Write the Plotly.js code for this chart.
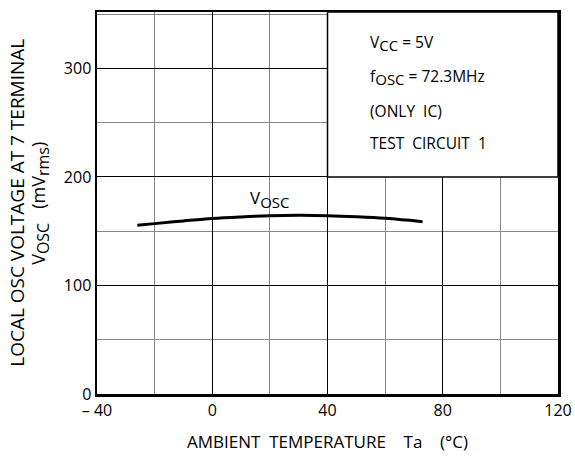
<!DOCTYPE html>
<html>
<head>
<meta charset="utf-8">
<script src="https://cdn.plot.ly/plotly-3.0.1.min.js"></script>
<style>html,body{margin:0;padding:0;background:#fff;}#chart{width:575px;height:459px;}</style>
</head>
<body>
<div id="chart"></div>
<script>
// Data
const temperature = [-26, -20, -10, 0, 10, 20, 30, 40, 50, 60, 70, 73];
const vosc = [155.5, 157, 159.5, 161.8, 163.2, 164.2, 164.6, 164.3, 163.4, 162, 159.6, 158.8];
const xTickVals = [-40, 0, 40, 80, 120];
const xTickText = ['– 40', '0', '40', '80', '120'];
const yTickVals = [0, 100, 200, 300];
const yTickText = ['0', '100', '200', '300'];

function sub(main, s, size) {
  return main + '<sub><span style="font-size:' + size + 'px">' + s + '</span></sub>';
}
const conditions = [sub('V', 'CC', 15) + ' = 5V', sub('f', 'OSC', 15) + ' = 72.3MHz', '(ONLY  IC)', 'TEST  CIRCUIT  1'];
const conditionY = [323, 292, 261, 231];

const FAM = 'Open Sans, Noto Sans, sans-serif';
const font = {family: FAM, size: 15, color: '#000'};
const boxFont = {family: FAM, size: 15.5, color: '#000'};

const trace = {
  x: temperature, y: vosc, type: 'scatter', mode: 'lines',
  line: {color: '#000', width: 3, shape: 'spline'}, hoverinfo: 'skip'
};

const annotations = conditions.map((t, i) => ({
  x: 54, y: conditionY[i], xref: 'x', yref: 'y', text: t, showarrow: false,
  xanchor: 'left', yanchor: 'middle', font: boxFont
}));
annotations.push({x: 20, y: 180, xref: 'x', yref: 'y', text: sub('V', 'OSC', 15), showarrow: false,
  xanchor: 'center', yanchor: 'middle', font: {family: FAM, size: 17, color: '#000'}});
annotations.push({x: 0.44, y: 1.0, xref: 'paper', yref: 'paper', yshift: 5, text: sub('V', 'OSC', 16), showarrow: false,
  xanchor: 'center', yanchor: 'bottom', font: {family: FAM, size: 18, color: '#000'}});
annotations.push({x: -0.174, y: 0.5, xref: 'paper', yref: 'paper', text: 'LOCAL OSC VOLTAGE AT 7 TERMINAL',
  textangle: -90, showarrow: false, xanchor: 'center', yanchor: 'middle', font: {family: FAM, size: 19, color: '#000'}});
annotations.push({x: -0.124, y: 0.5, xref: 'paper', yref: 'paper', text: sub('V', 'OSC', 16) + '   (m' + sub('V', 'rms', 16) + ')',
  textangle: -90, showarrow: false, xanchor: 'center', yanchor: 'middle', font: {family: FAM, size: 18, color: '#000'}});
annotations.push({x: 0.499, y: 0, xref: 'paper', yref: 'paper', yshift: -47, text: 'AMBIENT  TEMPERATURE    Ta    (°C)',
  showarrow: false, xanchor: 'center', yanchor: 'middle', font: {family: FAM, size: 17, color: '#000'}});

const layout = {
  width: 575, height: 459,
  margin: {l: 97, r: 17, t: 12, b: 65},
  paper_bgcolor: '#fff', plot_bgcolor: '#fff',
  showlegend: false,
  font: font,
  xaxis: {
    range: [-40, 120], tickvals: xTickVals, ticktext: xTickText, ticks: '',
    showgrid: true, gridcolor: '#000', gridwidth: 1,
    minor: {dtick: 20, showgrid: true, gridcolor: '#888', gridwidth: 1, ticks: ''},
    showline: true, linecolor: '#000', linewidth: 2.5, mirror: true, zeroline: false,
    tickfont: {family: FAM, size: 16, color: '#000'}, fixedrange: true
  },
  yaxis: {
    range: [0, 352], tickvals: yTickVals, ticktext: yTickText, ticks: '',
    showgrid: true, gridcolor: '#000', gridwidth: 1,
    minor: {dtick: 50, showgrid: true, gridcolor: '#888', gridwidth: 1, ticks: ''},
    showline: true, linecolor: '#000', linewidth: 2.5, mirror: true, zeroline: false,
    tickfont: {family: FAM, size: 16, color: '#000'}, ticklabelstandoff: 0, fixedrange: true
  },
  shapes: [{type: 'rect', xref: 'x', yref: 'y', x0: 40, x1: 120, y0: 200, y1: 352,
    fillcolor: '#fff', line: {color: '#000', width: 1.5}, layer: 'above'}],
  annotations: annotations
};

Plotly.newPlot('chart', [trace], layout, {displayModeBar: false, staticPlot: true});
</script>
</body>
</html>
